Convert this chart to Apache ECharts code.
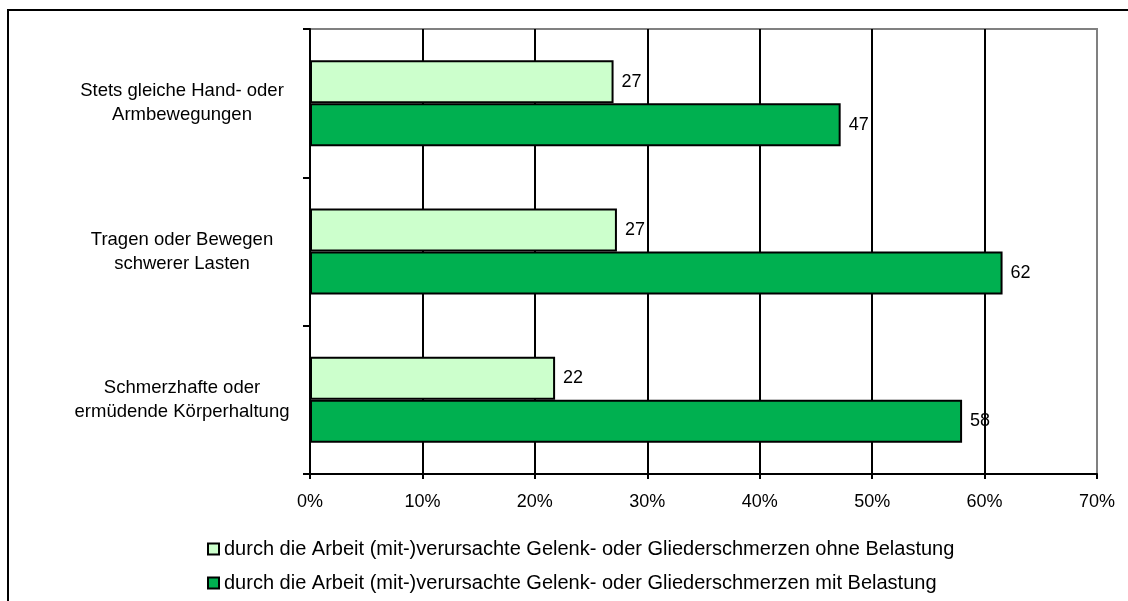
<!DOCTYPE html>
<html>
<head>
<meta charset="utf-8">
<script src="https://cdn.jsdelivr.net/npm/echarts@6/dist/echarts.min.js"></script>
<style>
html,body{margin:0;padding:0;background:#fff;}
#chart{width:1128px;height:601px;}
</style>
</head>
<body>
<div id="chart"></div>
<script>
const categories = [
  "Stets gleiche Hand- oder\nArmbewegungen",
  "Tragen oder Bewegen\nschwerer Lasten",
  "Schmerzhafte oder\nermüdende Körperhaltung"
];
const seriesNames = [
  "durch die Arbeit (mit-)verursachte Gelenk- oder Gliederschmerzen ohne Belastung",
  "durch die Arbeit (mit-)verursachte Gelenk- oder Gliederschmerzen mit Belastung"
];
const ohneBelastung = [27.0, 27.3, 21.8];
const mitBelastung = [47.2, 61.6, 58.0];
const xTicks = [0, 10, 20, 30, 40, 50, 60, 70];

const FONT = "Liberation Sans, Arial, sans-serif";
const chart = echarts.init(document.getElementById('chart'), null, {renderer: 'canvas'});

const labelCfg = {
  show: true, position: 'right', distance: 8,
  color: '#000', fontFamily: FONT, fontSize: 18,
  formatter: p => Math.round(p.value)
};

chart.setOption({
  animation: false,
  backgroundColor: '#fff',
  textStyle: {fontFamily: FONT},
  graphic: [{
    type: 'rect', z: 100, silent: true,
    shape: {x: 8, y: 10, width: 1300, height: 800},
    style: {fill: 'none', stroke: '#000', lineWidth: 2}
  }],
  grid: {
    left: 310, right: 31, top: 29, bottom: 127,
    show: true, borderColor: '#808080', borderWidth: 2, backgroundColor: 'transparent'
  },
  legend: {
    orient: 'vertical', left: 202, top: 534,
    itemWidth: 11, itemHeight: 11, itemGap: 14,
    icon: 'rect',
    textStyle: {color: '#000', fontFamily: FONT, fontSize: 20},
    data: seriesNames
  },
  xAxis: {
    type: 'value', min: xTicks[0], max: xTicks[xTicks.length - 1], interval: 10,
    axisLine: {show: true, lineStyle: {color: '#000', width: 2}},
    axisTick: {show: true, length: 5, lineStyle: {color: '#000', width: 2}},
    axisLabel: {color: '#000', fontFamily: FONT, fontSize: 18, margin: 19,
      formatter: v => v + '%'},
    splitLine: {show: true, lineStyle: {color: ['#000','#000','#000','#000','#000','#000','#000','#808080'], width: 2}}
  },
  yAxis: {
    type: 'category', inverse: true, data: categories,
    axisLine: {show: true, lineStyle: {color: '#000', width: 2}},
    axisTick: {show: true, length: 7, lineStyle: {color: '#000', width: 2}},
    axisLabel: {color: '#000', fontFamily: FONT, fontSize: 18.5, lineHeight: 24,
      align: 'center', margin: 128, padding: [14, 0, 0, 0]}
  },
  series: [
    {
      name: seriesNames[0], type: 'bar', data: ohneBelastung,
      barGap: '0%', barCategoryGap: '42%',
      itemStyle: {color: '#CCFFCC', borderColor: '#000', borderWidth: 2},
      label: labelCfg
    },
    {
      name: seriesNames[1], type: 'bar', data: mitBelastung,
      barGap: '0%', barCategoryGap: '42%',
      itemStyle: {color: '#00B050', borderColor: '#000', borderWidth: 2},
      label: labelCfg
    }
  ]
});
</script>
</body>
</html>
